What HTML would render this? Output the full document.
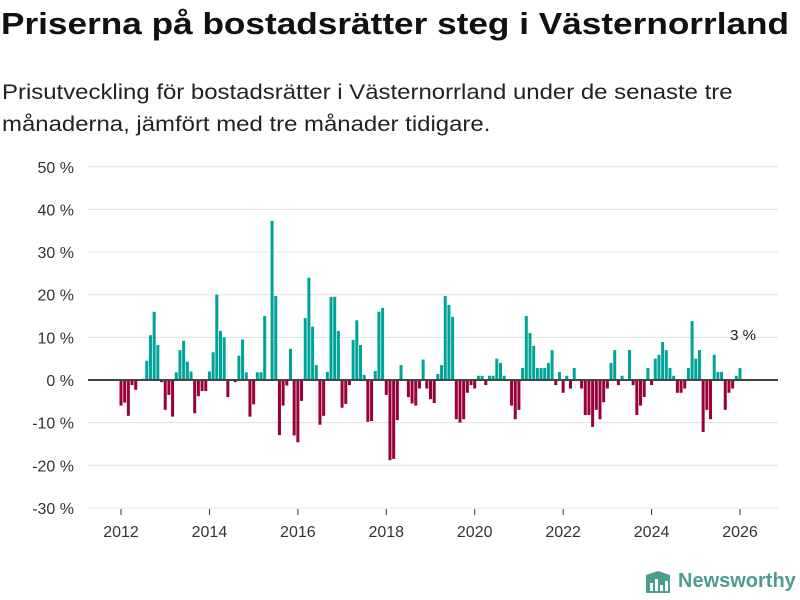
<!DOCTYPE html>
<html><head><meta charset="utf-8"><style>
body{margin:0;background:#fff;font-family:"Liberation Sans","DejaVu Sans",sans-serif;}
#wrap{position:relative;width:800px;height:600px;overflow:hidden;}
h1{position:absolute;left:1px;top:6px;margin:0;font-size:31px;font-weight:bold;color:#111;white-space:nowrap;transform:scaleX(1.135);transform-origin:left top;}
p.sub{position:absolute;left:2px;top:77px;margin:0;font-size:21px;line-height:32px;color:#222;width:660px;transform:scaleX(1.14);transform-origin:left top;}
svg{position:absolute;left:0;top:0;}
</style></head><body>
<div id="wrap">
<h1>Priserna på bostadsrätter steg i Västernorrland</h1>
<p class="sub">Prisutveckling för bostadsrätter i Västernorrland under de senaste tre månaderna, jämfört med tre månader tidigare.</p>
<svg id="chart" width="800" height="600"></svg>
</div>
<script>
const values = [-6,-5.3,-8.4,-1.2,-2.3,0,0.3,4.5,10.5,16,8.2,-0.5,-7,-3.5,-8.6,1.8,7,9.2,4.3,2,-7.8,-3.8,-2.6,-2.6,2,6.5,20,11.5,10,-4,0,-0.5,5.7,9.5,1.8,-8.6,-5.7,1.8,1.8,15,0,37.3,19.7,-12.9,-6,-1.3,7.3,-13,-14.6,-4.9,14.5,24,12.5,3.5,-10.5,-8.4,1.9,19.5,19.5,11.5,-6.5,-5.6,-1.2,9.4,14,8.2,1.2,-9.8,-9.6,2.1,16,16.9,-3.5,-18.8,-18.5,-9.4,3.5,0,-4,-5.5,-6,-2,4.8,-2,-4.5,-5.4,1.4,3.5,19.7,17.6,14.8,-9.2,-10,-9.2,-3,-1.2,-2,1,1,-1.2,1,1,5,4,1,0,-6,-9.2,-7,2.8,15,11,8,2.8,2.8,2.8,4,7,-1.2,1.9,-3,1,-2,2.8,0,-2,-8.2,-8.2,-11,-7,-9.2,-5.2,-2,4,7,-1.2,1,0,7,-1.2,-8.2,-6,-4,2.8,-1.2,5,5.9,8.9,7,2.8,1,-3,-3,-2,2.8,13.8,5,7,-12.2,-7,-9.2,5.9,1.9,1.9,-7,-3,-2,1,2.8];
const startYear = 2012;
const yTicks = [50,40,30,20,10,0,-10,-20,-30];
const xTicks = [2012,2014,2016,2018,2020,2022,2024,2026];
const lastLabel = "3 %";

const svg = document.getElementById('chart');
const NS = 'http://www.w3.org/2000/svg';
function y(v){ return 380 - v*4.265; }
function x(monthIdx){ return 121 + monthIdx*(619/168); }
function mk(tag, attrs){ const e=document.createElementNS(NS,tag); for(const k in attrs) e.setAttribute(k,attrs[k]); svg.appendChild(e); return e; }

yTicks.forEach(t=>{
  const g = mk('line',{x1:88,x2:778,y1:y(t),y2:y(t),stroke:'#e0e0e0','stroke-width':1});
  
  
  const tx = mk('text',{x:74,y:y(t)+6,'text-anchor':'end','font-size':16,fill:'#333','font-family':'Liberation Sans, sans-serif'});
  tx.textContent = t + ' %';
  
  
});
xTicks.forEach(yr=>{
  const px = x((yr-startYear)*12);
  const tk = mk('line',{x1:px,x2:px,y1:509,y2:515,stroke:'#333','stroke-width':1});
  
  
  const tx = mk('text',{x:px,y:537,'text-anchor':'middle','font-size':16,fill:'#333','font-family':'Liberation Sans, sans-serif'});
  tx.textContent = yr;
  
  
});
values.forEach((v,i)=>{
  const px = x(i);
  const top = Math.min(y(v), y(0)), h = Math.abs(y(v)-y(0));
  const r = mk('rect',{x:px-1.5,y:top,width:3,height:h,fill: v>=0 ? '#00a398' : '#99003a'});
  
  
});
const zl = mk('line',{x1:88,x2:778,y1:y(0),y2:y(0),stroke:'#444','stroke-width':2});


const lv = values[values.length-1];
const lbl = mk('text',{x:x(values.length-1)+3,y:y(lv)-28,'text-anchor':'middle','font-size':15,fill:'#222','font-family':'Liberation Sans, sans-serif'});
lbl.textContent = lastLabel;


</script>
<svg style="position:absolute;left:644px;top:569px" width="28" height="28">
<path d="M2 6 L14 2 L26 6 L26 24 L2 24 Z" fill="#4a9d8f"/>
<rect x="6" y="14" width="3" height="8" fill="#fff"/><rect x="11" y="10" width="3" height="12" fill="#fff"/><rect x="16" y="16" width="3" height="6" fill="#fff"/><rect x="21" y="12" width="3" height="10" fill="#fff"/>
</svg>
<div style="position:absolute;left:678px;top:570px;font-size:20px;font-weight:bold;color:#4a9d8f;font-family:'Liberation Sans',sans-serif">Newsworthy</div>
</body></html>
